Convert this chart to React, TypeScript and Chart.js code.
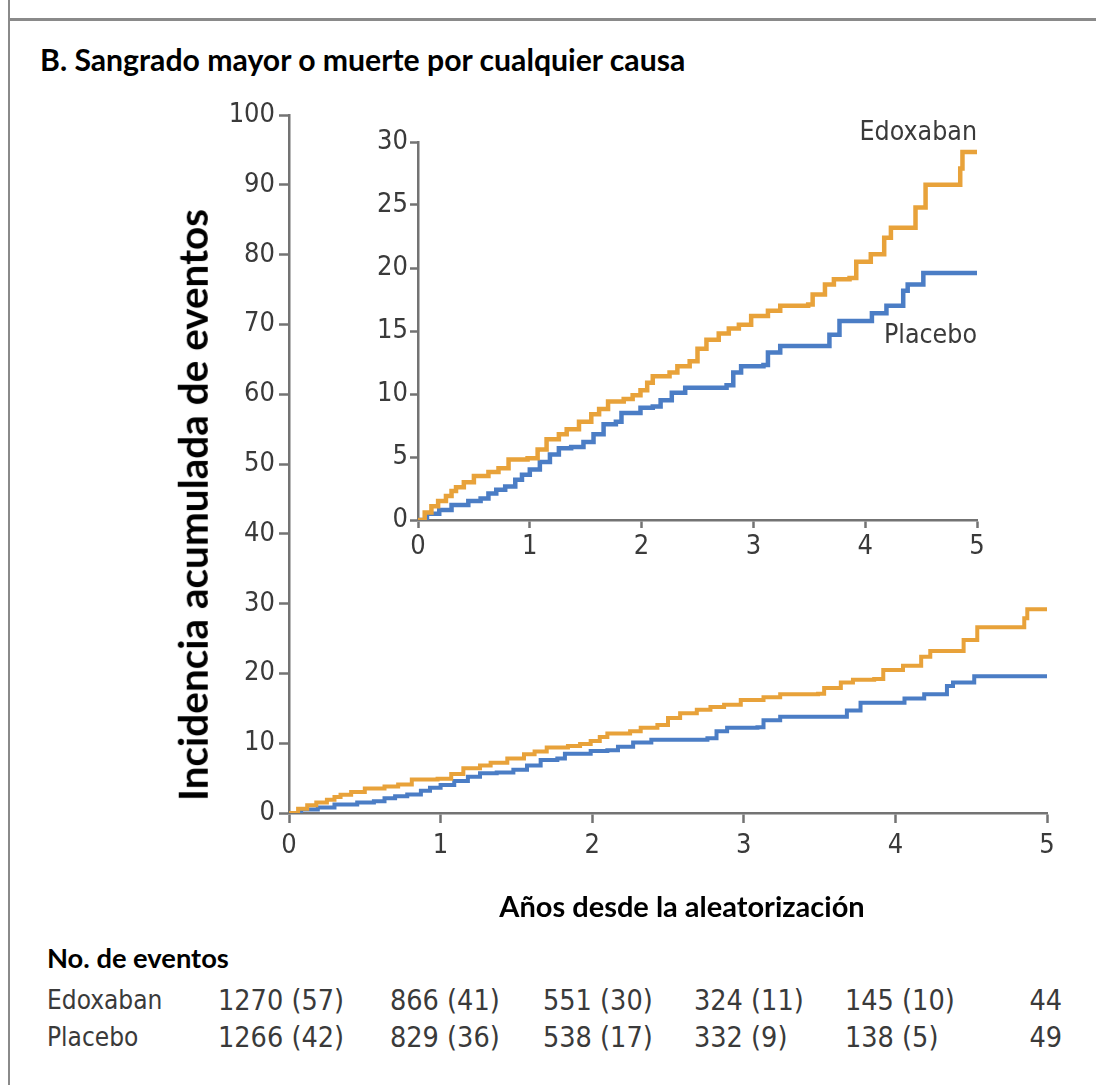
import React, { useEffect, useRef } from "react";
import { Chart, registerables } from "chart.js";

Chart.register(...registerables);

// ---- Data ----
const edoxabanYears = [0, 0.06, 0.12, 0.18, 0.25, 0.30, 0.34, 0.41, 0.50, 0.63, 0.72, 0.81, 0.98, 1.07, 1.15, 1.26, 1.33, 1.44, 1.55, 1.62, 1.70, 1.84, 1.92, 1.99, 2.05, 2.10, 2.25, 2.32, 2.43, 2.50, 2.58, 2.69, 2.78, 2.87, 2.98, 3.13, 3.24, 3.49, 3.53, 3.64, 3.72, 3.86, 3.92, 4.05, 4.17, 4.23, 4.45, 4.54, 4.85, 4.87, 5.0];
const edoxabanIncidence = [0, 0.6, 1.1, 1.5, 1.9, 2.3, 2.6, 3.0, 3.5, 3.8, 4.1, 4.8, 4.9, 5.6, 6.4, 6.8, 7.2, 7.8, 8.4, 8.8, 9.4, 9.6, 9.9, 10.3, 10.9, 11.4, 11.7, 12.2, 12.6, 13.6, 14.3, 14.8, 15.2, 15.5, 16.2, 16.6, 17.0, 17.1, 17.9, 18.7, 19.1, 19.2, 20.5, 21.1, 22.4, 23.2, 24.8, 26.6, 27.9, 29.2, 29.2];

const placeboYears = [0, 0.08, 0.19, 0.30, 0.45, 0.56, 0.63, 0.70, 0.78, 0.87, 0.93, 1.0, 1.09, 1.18, 1.26, 1.37, 1.48, 1.57, 1.66, 1.77, 1.82, 1.99, 2.10, 2.17, 2.27, 2.39, 2.65, 2.76, 2.82, 2.89, 3.09, 3.13, 3.24, 3.64, 3.68, 3.77, 4.03, 4.06, 4.19, 4.34, 4.38, 4.52, 5.0];
const placeboIncidence = [0, 0.5, 0.8, 1.2, 1.5, 1.7, 2.1, 2.4, 2.65, 3.2, 3.6, 4.0, 4.6, 5.2, 5.7, 5.8, 6.2, 6.8, 7.6, 7.8, 8.5, 8.9, 9.0, 9.5, 10.1, 10.5, 10.5, 10.7, 11.7, 12.2, 12.3, 13.3, 13.8, 13.8, 14.7, 15.8, 15.8, 16.4, 17.0, 18.2, 18.7, 19.6, 19.6];

const seriesNames = ["Edoxaban", "Placebo"];
const riskEdoxaban = ["1270 (57)", "866 (41)", "551 (30)", "324 (11)", "145 (10)", "44"];
const riskPlacebo = ["1266 (42)", "829 (36)", "538 (17)", "332 (9)", "138 (5)", "49"];

const titleText = "B. Sangrado mayor o muerte por cualquier causa";
const yTitleText = "Incidencia acumulada de eventos";
const xTitleText = "Años desde la aleatorización";
const riskTitleText = "No. de eventos";

// ---- Styles ----
const ORANGE = "#E8A23A";
const BLUE = "#4B7DC5";
const AXIS = "#737373";
const TICKTXT = "#3a3a3a";
const NARROW = "'Liberation Sans Narrow', 'DejaVu Sans Condensed', 'Liberation Sans', sans-serif";
const BOLD = "Lato, 'Open Sans', sans-serif";

const toPts = (xs: number[], ys: number[]) => xs.map((x, i) => ({ x, y: ys[i] }));

function makeChart(
  canvas: HTMLCanvasElement,
  yMax: number,
  yStep: number,
  lineW: number,
  pad: { left: number; top: number; right: number; bottom: number },
  yWidth: number,
  xHeight: number,
  tickLen: number,
  fontSize: number,
  yPad: number,
  xPad: number
) {
  return new Chart(canvas, {
    type: "line",
    data: {
      datasets: [
        {
          label: seriesNames[0],
          data: toPts(edoxabanYears, edoxabanIncidence),
          borderColor: ORANGE,
          borderWidth: lineW,
          pointRadius: 0,
          stepped: "before",
          fill: false,
        },
        {
          label: seriesNames[1],
          data: toPts(placeboYears, placeboIncidence),
          borderColor: BLUE,
          borderWidth: lineW,
          pointRadius: 0,
          stepped: "before",
          fill: false,
        },
      ],
    },
    options: {
      animation: false,
      responsive: false,
      devicePixelRatio: 1,
      layout: { padding: pad },
      plugins: { legend: { display: false }, tooltip: { enabled: false }, title: { display: false } },
      scales: {
        x: {
          type: "linear",
          min: 0,
          max: 5,
          afterFit: (s: any) => { s.height = xHeight; },
          border: { display: true, color: AXIS, width: 2.5 },
          grid: { display: true, drawOnChartArea: false, drawTicks: true, tickLength: tickLen, tickColor: AXIS, tickWidth: 2.5 },
          ticks: { stepSize: 1, color: TICKTXT, padding: xPad, font: { family: NARROW, size: fontSize }, maxRotation: 0 },
        },
        y: {
          type: "linear",
          min: 0,
          max: yMax,
          afterFit: (s: any) => { s.width = yWidth; },
          border: { display: true, color: AXIS, width: 2.5 },
          grid: { display: true, drawOnChartArea: false, drawTicks: true, tickLength: tickLen, tickColor: AXIS, tickWidth: 2.5 },
          ticks: { stepSize: yStep, color: TICKTXT, padding: yPad, font: { family: NARROW, size: fontSize } },
        },
      },
    } as any,
  });
}

export default function App() {
  const mainRef = useRef<HTMLCanvasElement>(null);
  const insetRef = useRef<HTMLCanvasElement>(null);

  useEffect(() => {
    const main = makeChart(
      mainRef.current!, 100, 10, 4,
      { left: 0, top: 115, right: 49, bottom: 900 - 813 - 60 },
      289, 60, 10, 27, 4, 7
    );
    const inset = makeChart(
      insetRef.current!, 30, 5, 4.5,
      { left: 0, top: 42, right: 53, bottom: 20 },
      88, 40, 8, 27, 2, 3
    );
    return () => { main.destroy(); inset.destroy(); };
  }, []);

  const abs = (s: React.CSSProperties): React.CSSProperties => ({ position: "absolute", whiteSpace: "nowrap", lineHeight: 1, ...s });
  const riskCols = [218, 390, 543, 694, 845];

  return (
    <div style={{ position: "fixed", left: 0, top: 0, width: 1096, height: 1085, background: "#fff", overflow: "hidden" }}>
      {/* frame */}
      <div style={abs({ left: 8, top: 0, width: 2, height: 1085, background: "#8a8a8a" })} />
      <div style={abs({ left: 8, top: 18, width: 1088, height: 3, background: "#8a8a8a" })} />

      <div style={abs({ left: 40, top: 44, fontFamily: BOLD, fontWeight: 700, fontSize: 30.2, color: "#000" })}>{titleText}</div>

      <canvas ref={mainRef} width={1096} height={900} style={{ position: "absolute", left: 0, top: 0 }} />
      <canvas ref={insetRef} width={700} height={480} style={{ position: "absolute", left: 330, top: 100 }} />

      <div style={abs({ left: 193, top: 505, transform: "translate(-50%, -50%) rotate(-90deg)", fontFamily: BOLD, fontWeight: 700, fontSize: 40.5, color: "#000" })}>{yTitleText}</div>

      <div style={abs({ left: 977, top: 118, transform: "translateX(-100%)", fontFamily: NARROW, fontSize: 26.5, color: TICKTXT })}>{seriesNames[0]}</div>
      <div style={abs({ left: 977, top: 321, transform: "translateX(-100%)", fontFamily: NARROW, fontSize: 26.5, color: TICKTXT })}>{seriesNames[1]}</div>

      <div style={abs({ left: 682, top: 891, transform: "translateX(-50%)", fontFamily: BOLD, fontWeight: 700, fontSize: 29, color: "#000" })}>{xTitleText}</div>

      <div style={abs({ left: 47, top: 944, fontFamily: BOLD, fontWeight: 700, fontSize: 27.3, color: "#000" })}>{riskTitleText}</div>

      {[riskEdoxaban, riskPlacebo].map((row, r) => (
        <React.Fragment key={r}>
          <div style={abs({ left: 47, top: 987 + r * 36.5, fontFamily: NARROW, fontSize: 26, color: TICKTXT })}>{seriesNames[r]}</div>
          {row.slice(0, 5).map((v, i) => (
            <div key={i} style={abs({ left: riskCols[i], top: 987 + r * 36.5, fontFamily: NARROW, fontSize: 28.5, color: TICKTXT })}>{v}</div>
          ))}
          <div style={abs({ left: 1062, top: 987 + r * 36.5, transform: "translateX(-100%)", fontFamily: NARROW, fontSize: 28.5, color: TICKTXT })}>{row[5]}</div>
        </React.Fragment>
      ))}
    </div>
  );
}
